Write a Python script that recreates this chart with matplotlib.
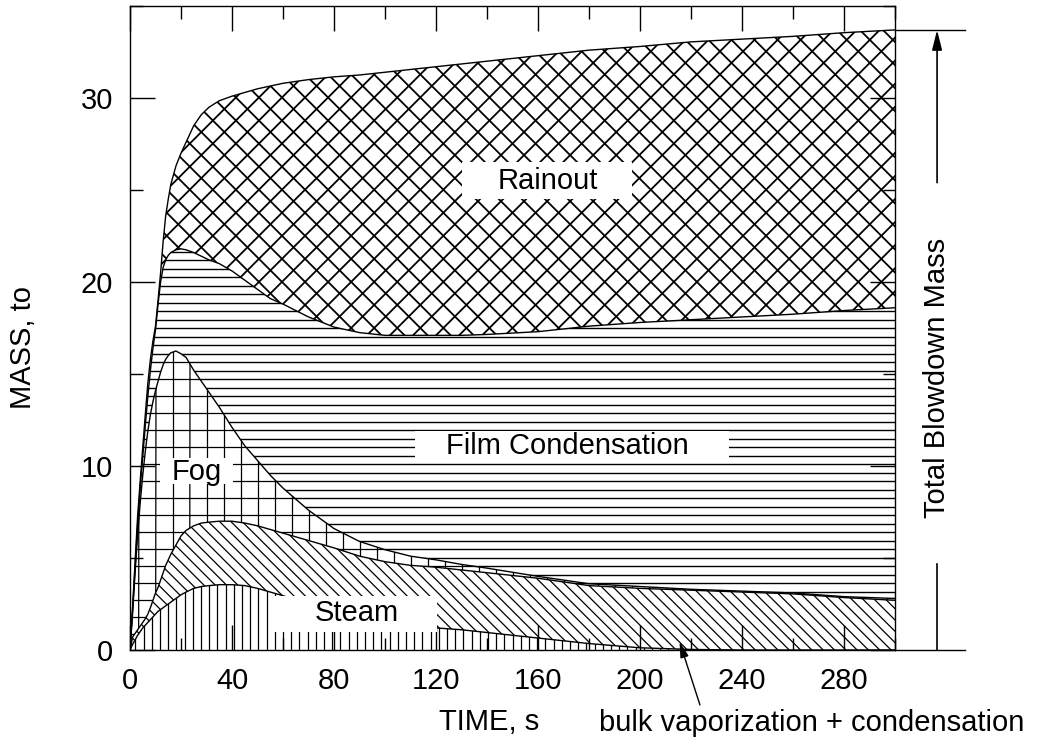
import numpy as np
import matplotlib
matplotlib.use("Agg")
import matplotlib.pyplot as plt
import matplotlib.patches as mpatches
from matplotlib.collections import LineCollection
from matplotlib.ticker import MultipleLocator

plt.rcParams['font.family'] = ['Liberation Sans', 'DejaVu Sans']

# stacked mass curves, tonnes (cumulative tops of each layer)
time_s = [0, 1, 2, 3, 4, 5, 6, 7, 8, 9, 10, 11, 12, 13, 14, 15, 16, 18, 20, 22,
          25, 28, 31, 35, 40, 45, 50, 55, 60, 70, 80, 90, 100, 110, 120, 130,
          140, 160, 180, 200, 220, 240, 260, 280, 300]
steam_top = [0, 0.3, 0.55, 0.8, 1.0, 1.2, 1.35, 1.5, 1.65, 1.8, 1.95, 2.1, 2.2,
             2.3, 2.4, 2.5, 2.6, 2.8, 3.0, 3.15, 3.35, 3.45, 3.5, 3.55, 3.55,
             3.5, 3.35, 3.15, 2.95, 2.5, 2.1, 1.8, 1.5, 1.3, 1.2, 1.1, 0.95,
             0.65, 0.35, 0.12, 0.03, 0, 0, 0, 0]
bulk_top = [0, 0.7, 0.9, 1.1, 1.3, 1.5, 1.7, 1.95, 2.3, 2.7, 3.1, 3.4, 3.8, 4.2,
            4.6, 4.9, 5.2, 5.7, 6.2, 6.5, 6.75, 6.9, 6.95, 7.0, 7.0, 6.9, 6.75,
            6.55, 6.35, 5.95, 5.55, 5.1, 4.8, 4.6, 4.5, 4.35, 4.2, 3.9, 3.5,
            3.35, 3.25, 3.15, 3.05, 2.85, 2.7]
fog_top = [0, 2.0, 4.2, 6.3, 8.0, 9.5, 10.8, 11.9, 12.8, 13.5, 14.1, 14.6, 15.1,
           15.5, 15.8, 16.0, 16.15, 16.25, 16.1, 15.9, 15.2, 14.6, 14.0, 13.2,
           12.1, 11.1, 10.3, 9.5, 8.8, 7.6, 6.6, 5.9, 5.45, 5.1, 4.9, 4.65,
           4.45, 4.0, 3.6, 3.45, 3.3, 3.2, 3.1, 2.9, 2.8]
film_top = [0, 2.1, 4.5, 6.8, 8.8, 10.5, 12.2, 13.8, 15.2, 16.4, 17.4, 18.8,
            20.0, 20.8, 21.2, 21.45, 21.6, 21.75, 21.8, 21.75, 21.6, 21.4,
            21.2, 21.0, 20.6, 20.1, 19.6, 19.1, 18.8, 18.1, 17.55, 17.25,
            17.1, 17.1, 17.1, 17.1, 17.15, 17.3, 17.6, 17.8, 17.95, 18.1,
            18.25, 18.45, 18.6]
total_mass = [0, 2.3, 4.8, 7.3, 9.2, 11.0, 12.8, 14.5, 15.8, 16.8, 17.6, 19.0,
              20.5, 22.2, 23.6, 24.5, 25.3, 26.3, 27.0, 27.6, 28.5, 29.1, 29.5,
              29.85, 30.1, 30.3, 30.5, 30.65, 30.8, 31.0, 31.15, 31.25, 31.4,
              31.55, 31.7, 31.85, 32.0, 32.3, 32.6, 32.8, 33.05, 33.2, 33.35,
              33.55, 33.7]

fig = plt.figure(figsize=(10.38, 7.44), dpi=100)
ax = fig.add_axes([130 / 1038, 94 / 744, 765 / 1038, 644 / 744])
ax.set_xlim(0, 300)
ax.set_ylim(0, 35)


def add_hatch(region, angles, spacing, lw):
    # parallel lines (angle in screen degrees, spacing in pixels) clipped to a fill
    path = region.get_paths()[0]
    x0, y0, x1, y1 = ax.bbox.extents
    centre = np.array([(x0 + x1) / 2, (y0 + y1) / 2])
    reach = np.hypot(x1 - x0, y1 - y0)
    n = int(reach / spacing) + 1
    inv = ax.transData.inverted()
    segs = []
    for a in angles:
        r = np.deg2rad(a)
        d = np.array([np.cos(r), np.sin(r)])
        nrm = np.array([-d[1], d[0]])
        for k in range(-n, n + 1):
            p = centre + nrm * k * spacing
            segs.append(inv.transform([p - d * reach, p + d * reach]))
    lc = LineCollection(segs, colors='black', linewidths=lw, zorder=1.5)
    lc.set_clip_path(path, ax.transData)
    ax.add_collection(lc, autolim=False)


t = np.array(time_s)
layers = [
    (np.zeros_like(t, dtype=float), steam_top, [90], 8.2, 0.9),
    (steam_top, bulk_top, [-45], 8.0, 0.9),
    (bulk_top, fog_top, [0, 90], 17.0, 0.9),
    (fog_top, film_top, [0], 8.5, 1.0),
    (film_top, total_mass, [45, -45], 16.3, 1.3),
]
for lower, upper, angles, spacing, lw in layers:
    region = ax.fill_between(t, lower, upper, facecolor='white',
                             edgecolor='none', zorder=1)
    add_hatch(region, angles, spacing, lw)

for curve in [steam_top, bulk_top, fog_top, film_top, total_mass]:
    ax.plot(t, curve, color='black', lw=1.0, zorder=2)

# white label boxes over the hatching
boxes = [
    ('Rainout', 164, 25.5, (130, 24.5, 67, 2.0)),
    ('Film Condensation', 171.5, 11.1, (111.8, 10.3, 123.2, 1.6)),
    ('Fog', 26.3, 9.7, (11.8, 9.0, 28.6, 1.45)),
    ('Steam', 89, 2.0, (56, 1.0, 64.4, 1.95)),
]
for label, tx, ty, (bx, by, bw, bh) in boxes:
    ax.add_patch(mpatches.Rectangle((bx, by), bw, bh, facecolor='white',
                                    edgecolor='none', zorder=3))
    ax.text(tx, ty, label, fontsize=21, ha='center', va='center', zorder=4)

ax.set_xticks(range(0, 281, 40))
ax.xaxis.set_minor_locator(MultipleLocator(20))
ax.set_yticks([0, 10, 20, 30])
ax.yaxis.set_minor_locator(MultipleLocator(5))
ax.tick_params(which='both', direction='in', top=True, right=True,
               labelsize=21, pad=12, width=1)
ax.tick_params(which='major', length=18)
ax.tick_params(which='minor', length=9)
for s in ax.spines.values():
    s.set_linewidth(1.0)

ax.text(0.47, -0.112, 'TIME, s', transform=ax.transAxes, fontsize=21,
        ha='center', va='center')
ax.text(-0.14, 0.47, 'MASS, to', transform=ax.transAxes, fontsize=21,
        rotation=90, ha='center', va='center')

ax.annotate('bulk vaporization + condensation', xy=(215.5, 0.45),
            xytext=(184, -3.97), fontsize=21, ha='left', va='center',
            annotation_clip=False,
            arrowprops=dict(arrowstyle='-|>,head_length=0.45,head_width=0.12',
                            color='black', lw=1.0, relpos=(0.24, 1.0),
                            shrinkA=1, shrinkB=0))

# total blowdown mass bracket on the right
ax.plot([300, 327.5], [total_mass[-1], total_mass[-1]], color='black', lw=1.0,
        clip_on=False)
ax.plot([300, 327.5], [0, 0], color='black', lw=1.0, clip_on=False)
ax.annotate('', xy=(316.5, total_mass[-1]), xytext=(316.5, 25.4),
            annotation_clip=False,
            arrowprops=dict(arrowstyle='-|>,head_length=1.2,head_width=0.3',
                            color='black', lw=1.2, shrinkA=0, shrinkB=0))
ax.plot([316.5, 316.5], [0, 4.7], color='black', lw=1.2, clip_on=False)
ax.text(316.5, 14.8, 'Total Blowdown Mass', fontsize=21, rotation=90,
        ha='center', va='center', clip_on=False)

fig.savefig('out.png', dpi=100)
